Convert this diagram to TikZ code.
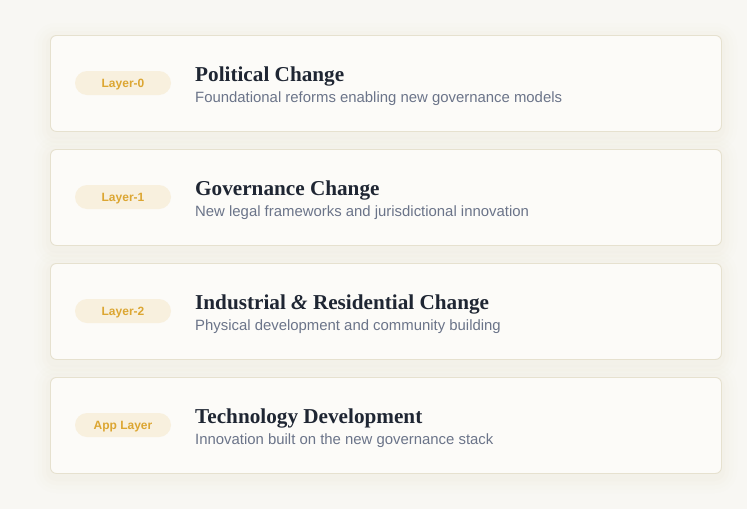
\documentclass[tikz,border=0pt]{standalone}
\usepackage{fontspec}
\setmainfont{Liberation Serif}
\newfontfamily\subfont{Liberation Sans}
\newfontfamily\pillfont{Liberation Sans}
\definecolor{bgc}{HTML}{F8F7F3}
\definecolor{cardfill}{HTML}{FCFBF8}
\definecolor{cardline}{HTML}{E6E1CF}
\definecolor{pillfill}{HTML}{F8F0DE}
\definecolor{pilltext}{HTML}{DCA632}
\definecolor{titlec}{HTML}{1F2633}
\definecolor{subc}{HTML}{6B7489}
\definecolor{shadowc}{HTML}{E9E3D2}
\tikzset{
  x=1pt, y=-1pt,
  cardbox/.style={draw=cardline, line width=0.9pt, fill=cardfill, rounded corners=6pt,
    minimum width=671pt, minimum height=96pt, anchor=north west, inner sep=0pt},
  pillbox/.style={fill=pillfill, rounded corners=12pt, minimum width=96pt, minimum height=24pt,
    inner sep=0pt, text height=8.6pt, text depth=0pt, text=pilltext, font=\pillfont\bfseries\fontsize{12}{14}\selectfont},
  titletext/.style={anchor=base west, inner sep=0pt, text=titlec, font=\bfseries\fontsize{21.2}{24}\selectfont},
  subtext/.style={anchor=base west, inner sep=0pt, text=subc, font=\subfont\fontsize{14.9}{17}\selectfont},
}
\begin{document}
\begin{tikzpicture}
\fill[bgc] (0,0) rectangle (747,509);
\useasboundingbox (0,0) rectangle (747,509);
\foreach \i/\pill/\title/\sub in {
  0/Layer-0/Political Change/Foundational reforms enabling new governance models,
  1/Layer-1/Governance Change/New legal frameworks and jurisdictional innovation,
  2/Layer-2/Industrial {\itshape\&} Residential Change/Physical development and community building,
  3/App Layer/Technology Development/Innovation built on the new governance stack}{
  \pgfmathsetmacro{\top}{35+114*\i}
  \foreach \s/\o in {16/0.04,12/0.05,8/0.07,4/0.09}{
    \fill[shadowc, opacity=\o, rounded corners=6pt+\s pt] (50-\s,\top-\s+4) rectangle (721+\s,\top+96+\s+4);
  }
  \node[cardbox] (card\i) at (50,\top) {};
  \node[pillbox] (pill\i) at (123,\top+48) {\pill};
  \node[titletext] (title\i) at (195,\top+46) {\title};
  \node[subtext] (sub\i) at (195,\top+67) {\sub};
}
\end{tikzpicture}
\end{document}
